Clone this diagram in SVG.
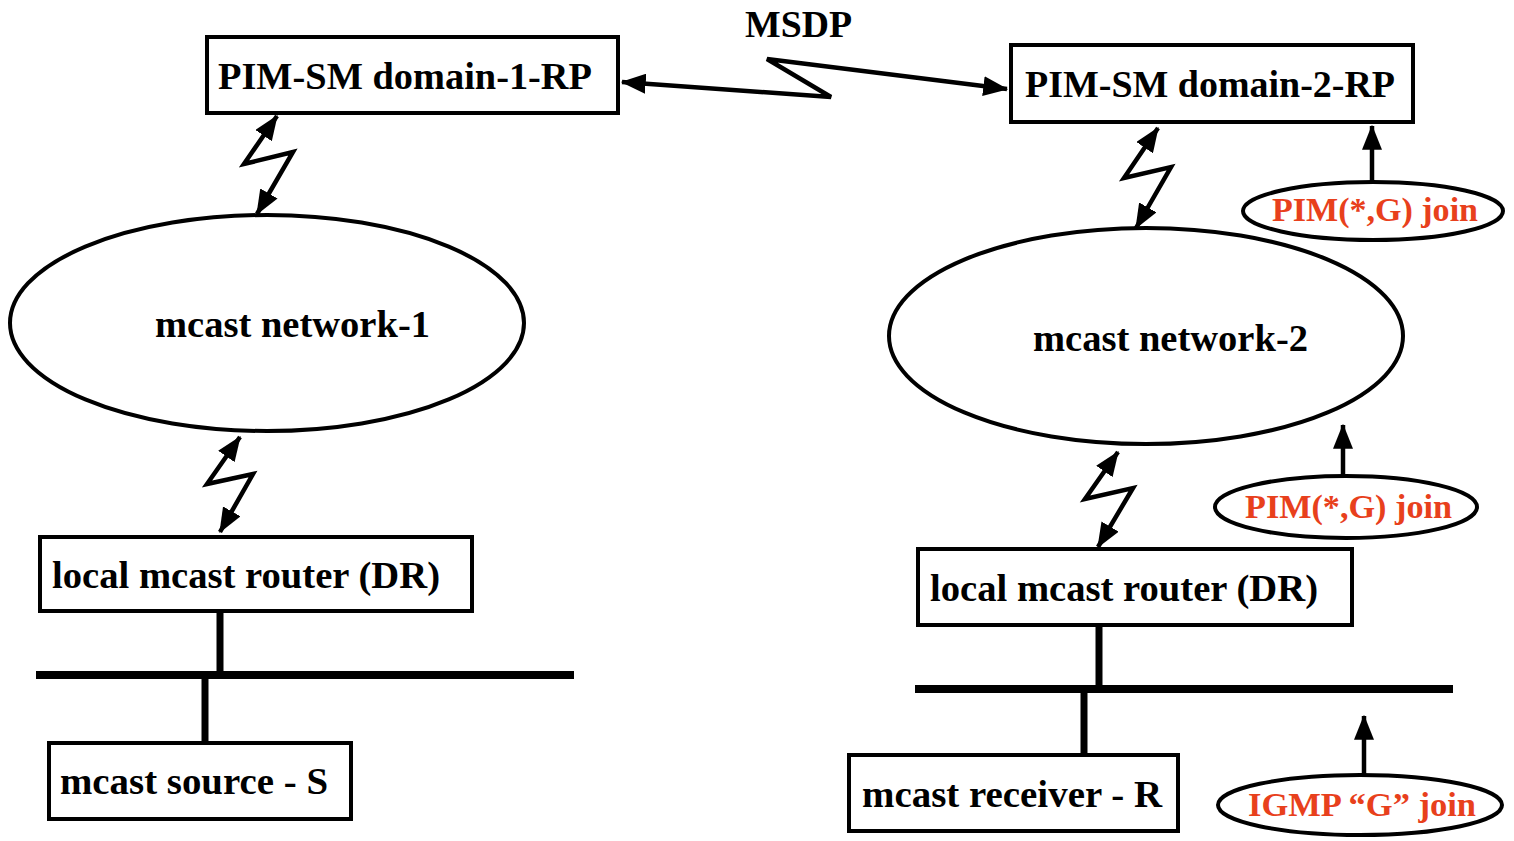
<svg xmlns="http://www.w3.org/2000/svg" width="1514" height="841" viewBox="0 0 1514 841">
<defs>
<marker id="ah" viewBox="0 0 20 16" refX="19" refY="8" markerWidth="25" markerHeight="20" markerUnits="userSpaceOnUse" orient="auto-start-reverse">
<path d="M0,0 L20,8 L0,16 z" fill="#000"/>
</marker>
<style>
.box{fill:#fff;stroke:#000;stroke-width:4}
.ell{fill:#fff;stroke:#000;stroke-width:4}
.t{font-family:"Liberation Serif","Times New Roman",serif;font-weight:bold;font-size:38px;fill:#000}
.r{font-family:"Liberation Serif","Times New Roman",serif;font-weight:bold;font-size:34px;fill:#e8401c}
.zz{fill:none;stroke:#000;stroke-width:4.5;stroke-linejoin:miter;marker-start:url(#ah);marker-end:url(#ah)}
.up{fill:none;stroke:#000;stroke-width:4.5;marker-end:url(#ah)}
.bus{stroke:#000;stroke-width:8;fill:none}
.drop{stroke:#000;stroke-width:7;fill:none}
</style>
</defs>
<rect width="1514" height="841" fill="#fff"/>

<g id="rp1">
<rect class="box" x="207" y="37" width="411" height="76"/>
<text class="t" x="218" y="89" textLength="374" lengthAdjust="spacingAndGlyphs">PIM-SM domain-1-RP</text>
</g>
<g id="rp2">
<rect class="box" x="1011" y="45" width="402" height="77"/>
<text class="t" x="1025" y="97" textLength="370" lengthAdjust="spacingAndGlyphs">PIM-SM domain-2-RP</text>
</g>
<g id="msdp-label">
<text class="t" x="745" y="37" textLength="107" lengthAdjust="spacingAndGlyphs">MSDP</text>
</g>
<g id="net1">
<ellipse class="ell" cx="267" cy="323" rx="257" ry="108"/>
<text class="t" x="155" y="337" textLength="275" lengthAdjust="spacingAndGlyphs">mcast network-1</text>
</g>
<g id="net2">
<ellipse class="ell" cx="1146" cy="336" rx="257" ry="108"/>
<text class="t" x="1033" y="351" textLength="275" lengthAdjust="spacingAndGlyphs">mcast network-2</text>
</g>
<g id="dr1">
<rect class="box" x="40" y="537" width="432" height="74"/>
<text class="t" x="52" y="588" textLength="388" lengthAdjust="spacingAndGlyphs">local mcast router (DR)</text>
</g>
<g id="dr2">
<rect class="box" x="918" y="549" width="434" height="76"/>
<text class="t" x="930" y="601" textLength="388" lengthAdjust="spacingAndGlyphs">local mcast router (DR)</text>
</g>
<g id="source">
<rect class="box" x="49" y="743" width="302" height="76"/>
<text class="t" x="60" y="794" textLength="268" lengthAdjust="spacingAndGlyphs">mcast source - S</text>
</g>
<g id="receiver">
<rect class="box" x="849" y="755" width="329" height="76"/>
<text class="t" x="862" y="807" textLength="300" lengthAdjust="spacingAndGlyphs">mcast receiver - R</text>
</g>
<g id="join1">
<ellipse class="ell" cx="1373" cy="211" rx="130" ry="29"/>
<text class="r" x="1272" y="221" textLength="206" lengthAdjust="spacingAndGlyphs">PIM(*,G) join</text>
</g>
<g id="join2">
<ellipse class="ell" cx="1346" cy="507" rx="131" ry="31"/>
<text class="r" x="1245" y="518" textLength="207" lengthAdjust="spacingAndGlyphs">PIM(*,G) join</text>
</g>
<g id="igmp">
<ellipse class="ell" cx="1360" cy="805" rx="142" ry="30"/>
<text class="r" x="1248" y="816" textLength="228" lengthAdjust="spacingAndGlyphs">IGMP “G” join</text>
</g>

<g id="connectors">
<polyline class="zz" points="622,82 831,97 767,59 1007,89"/>
<polyline class="zz" points="277,116 244,164 293,152 257,214"/>
<polyline class="zz" points="240,437 207,484 253,474 220,532"/>
<polyline class="zz" points="1158,128 1124,178 1171,167 1136,228"/>
<polyline class="zz" points="1118,452 1085,499 1133,488 1098,547"/>
<line class="up" x1="1372" y1="182" x2="1372" y2="126"/>
<line class="up" x1="1343" y1="476" x2="1343" y2="425"/>
<line class="up" x1="1364" y1="775" x2="1364" y2="716"/>
<line class="drop" x1="220" y1="611" x2="220" y2="675"/>
<line class="bus" x1="36" y1="675" x2="574" y2="675"/>
<line class="drop" x1="205" y1="675" x2="205" y2="743"/>
<line class="drop" x1="1099" y1="625" x2="1099" y2="689"/>
<line class="bus" x1="915" y1="689" x2="1453" y2="689"/>
<line class="drop" x1="1084" y1="689" x2="1084" y2="755"/>
</g>
</svg>
